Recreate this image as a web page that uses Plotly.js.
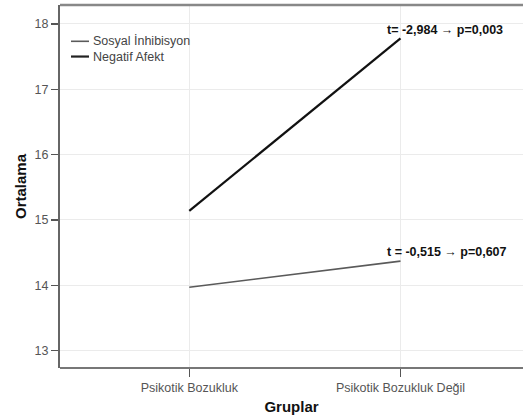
<!DOCTYPE html>
<html>
<head>
<meta charset="utf-8">
<script src="https://cdn.plot.ly/plotly-3.0.1.min.js"></script>
<style>html,body{margin:0;padding:0;background:#fff;}#chart{width:523px;height:418px;}</style>
</head>
<body>
<div id="chart"></div>
<script>
const groups = ["Psikotik Bozukluk", "Psikotik Bozukluk Değil"];
const sosyalInhibisyon = [13.97, 14.37];
const negatifAfekt = [15.14, 17.78];
const seriesNames = ["Sosyal İnhibisyon", "Negatif Afekt"];
const testLabels = ["t = -0,515 → p=0,607", "t= -2,984 → p=0,003"];
const yTicks = [13, 14, 15, 16, 17, 18];

const traces = [
  {x: groups, y: sosyalInhibisyon, type: 'scatter', mode: 'lines', name: seriesNames[0],
   line: {color: '#5a5a5a', width: 1.6}, showlegend: false, hoverinfo: 'none'},
  {x: groups, y: negatifAfekt, type: 'scatter', mode: 'lines', name: seriesNames[1],
   line: {color: '#111111', width: 2.2}, showlegend: false, hoverinfo: 'none'}
];

const font = 'Liberation Sans, Arial, sans-serif';
const layout = {
  width: 523, height: 418,
  margin: {l: 60, r: 0, t: 5, b: 50},
  paper_bgcolor: '#fff', plot_bgcolor: '#fff',
  font: {family: font, size: 12.5, color: '#555'},
  xaxis: {
    type: 'category', categoryorder: 'array', categoryarray: groups,
    tickmode: 'array', tickvals: groups, ticktext: groups,
    range: [-0.612, 1.58],
    showgrid: true, gridcolor: '#ebebeb', gridwidth: 1,
    showline: false,
    ticks: 'outside', ticklen: 8, tickcolor: '#555', tickwidth: 1.5,
    tickfont: {family: font, size: 12.5, color: '#555'},
    zeroline: false,
    title: {text: '<b>Gruplar</b>', font: {family: font, size: 15, color: '#111'}, standoff: 7}
  },
  yaxis: {
    range: [12.735, 18.29],
    tickvals: yTicks, ticktext: yTicks.map(String),
    showgrid: true, gridcolor: '#ebebeb', gridwidth: 1,
    showline: true, linecolor: '#666', linewidth: 2,
    ticks: 'outside', ticklen: 7, tickcolor: '#555', tickwidth: 1.5,
    tickfont: {family: font, size: 12.5, color: '#555'},
    zeroline: false,
    title: {text: '<b>Ortalama</b>', font: {family: font, size: 15, color: '#111'}, standoff: 4}
  },
  shapes: [
    {type: 'line', xref: 'paper', yref: 'paper', x0: 0, x1: 1, y0: 1, y1: 1,
     line: {color: '#888', width: 2.5}},
    {type: 'line', xref: 'paper', yref: 'paper', x0: 0, x1: 1, y0: 0, y1: 0,
     line: {color: '#777', width: 2}},
    {type: 'line', xref: 'paper', yref: 'paper', x0: 0.0238, x1: 0.0627, y0: 0.9, y1: 0.9,
     line: {color: '#5a5a5a', width: 1.6}},
    {type: 'line', xref: 'paper', yref: 'paper', x0: 0.0238, x1: 0.0627, y0: 0.858, y1: 0.858,
     line: {color: '#222', width: 2.2}}
  ],
  annotations: [
    {xref: 'paper', yref: 'paper', x: 0.066, y: 0.9, xanchor: 'left', yanchor: 'middle',
     text: seriesNames[0], showarrow: false, font: {family: font, size: 12.5, color: '#444'}},
    {xref: 'paper', yref: 'paper', x: 0.066, y: 0.858, xanchor: 'left', yanchor: 'middle',
     text: seriesNames[1], showarrow: false, font: {family: font, size: 12.5, color: '#444'}},
    {x: groups[1], y: sosyalInhibisyon[1], xanchor: 'left', yanchor: 'middle', xshift: -15, yshift: 9,
     text: '<b>' + testLabels[0] + '</b>', showarrow: false, font: {family: font, size: 12.5, color: '#111'}},
    {x: groups[1], y: negatifAfekt[1], xanchor: 'left', yanchor: 'middle', xshift: -15, yshift: 8,
     text: '<b>' + testLabels[1] + '</b>', showarrow: false, font: {family: font, size: 12.5, color: '#111'}}
  ]
};

Plotly.newPlot('chart', traces, layout, {displayModeBar: false, staticPlot: true});
</script>
</body>
</html>
